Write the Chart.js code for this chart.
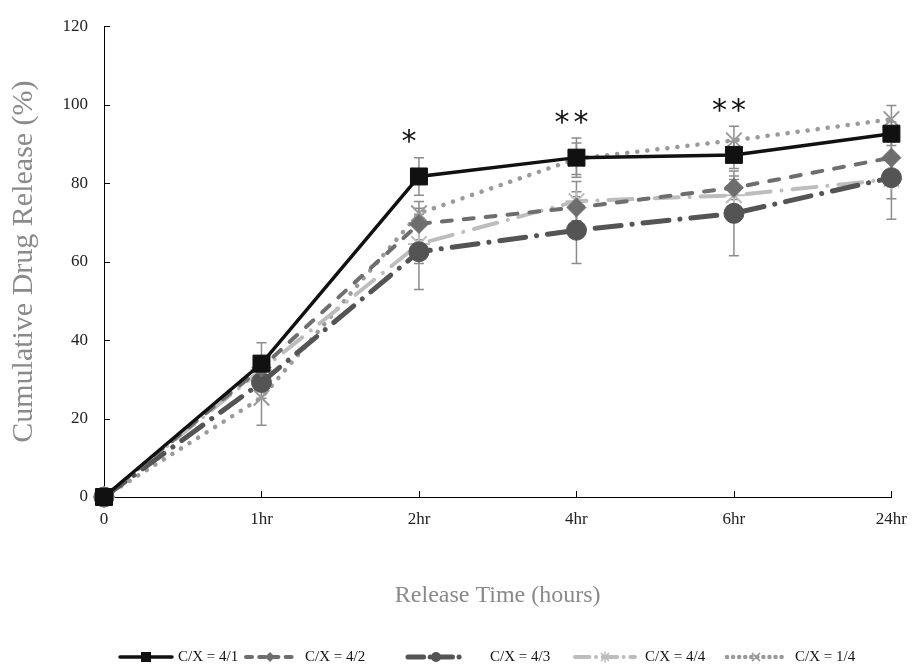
<!DOCTYPE html>
<html>
<head>
<meta charset="utf-8">
<script src="https://cdn.jsdelivr.net/npm/chart.js@4"></script>
<style>
  html, body { margin: 0; padding: 0; background: #fff; }
</style>
</head>
<body>
<canvas id="release-chart" width="919" height="667"></canvas>
<script>
/* release chart — cumulative drug release vs time */

const timeLabels = ['0', '1hr', '2hr', '4hr', '6hr', '24hr'];
const yTicks = { min: 0, max: 120, step: 20 };

const cx41 = [0, 34.0, 81.7, 86.5, 87.2, 92.6];
const cx42 = [0, 33.0, 69.6, 73.8, 78.8, 86.5];
const cx43 = [0, 29.2, 62.5, 68.0, 72.3, 81.4];
const cx44 = [0, 32.4, 64.5, 75.4, 76.9, 81.0];
const cx14 = [0, 25.3, 72.3, 86.2, 90.9, 96.3];

const err41 = [0, 5.3, 4.8, 5.0, 3.5, 3.0];
const err42 = [0, 3.0, 4.0, 4.0, 3.0, 4.0];
const err43 = [0, 4.0, 9.6, 8.5, 10.8, 10.6];
const err44 = [0, 3.0, 5.0, 5.0, 4.0, 5.0];
const err14 = [0, 7.0, 3.0, 4.0, 3.6, 3.5];

const sigMarks = ['', '', '*', '**', '**', ''];

const serif = "'Liberation Serif', 'Times New Roman', serif";

function series(label, data, errs, color, dash, width, style, radius) {
  return {
    label, data, errs,
    borderColor: color, backgroundColor: color,
    borderWidth: width, borderDash: dash, borderCapStyle: 'round',
    pointStyle: style, pointRadius: radius,
    pointBackgroundColor: color, pointBorderColor: color,
    pointBorderWidth: (style === 'star' || style === 'crossRot') ? 2 : 1,
    tension: 0, fill: false, clip: false
  };
}

const datasets = [
  series('C/X = 4/1', cx41, err41, '#111111', [], 3.5, 'rect', 12),
  series('C/X = 4/2', cx42, err42, '#6e6e6e', [10, 12], 4, 'rectRot', 9.5),
  series('C/X = 4/3', cx43, err43, '#545454', [26, 11, 0.1, 11], 5, 'circle', 10),
  series('C/X = 4/4', cx44, err44, '#bdbdbd', [24, 11, 0.1, 11], 4, 'star', 11),
  series('C/X = 1/4', cx14, err14, '#9a9a9a', [0.1, 10], 4.5, 'crossRot', 11)
];

// 误差线（画在折线下面）
const errorBars = {
  id: 'errorBars',
  beforeDatasetsDraw(chart) {
    const ctx = chart.ctx, y = chart.scales.y;
    ctx.save();
    ctx.strokeStyle = '#8c8c8c';
    ctx.lineWidth = 1.5;
    chart.data.datasets.forEach((ds, i) => {
      chart.getDatasetMeta(i).data.forEach((pt, j) => {
        const e = ds.errs[j];
        if (!e) return;
        const top = y.getPixelForValue(ds.data[j] + e);
        const bot = y.getPixelForValue(ds.data[j] - e);
        ctx.beginPath();
        ctx.moveTo(pt.x, top); ctx.lineTo(pt.x, bot);
        ctx.moveTo(pt.x - 5, top); ctx.lineTo(pt.x + 5, top);
        ctx.moveTo(pt.x - 5, bot); ctx.lineTo(pt.x + 5, bot);
        ctx.stroke();
      });
    });
    ctx.restore();
  }
};

// 星号 + 内侧刻度
const extras = {
  id: 'extras',
  afterDatasetsDraw(chart) {
    const ctx = chart.ctx, x = chart.scales.x, y = chart.scales.y;
    const area = chart.chartArea;
    ctx.save();
    ctx.strokeStyle = '#000';
    ctx.lineWidth = 1;
    for (let v = yTicks.min + yTicks.step; v <= yTicks.max; v += yTicks.step) {
      const py = Math.round(y.getPixelForValue(v)) + 0.5;
      ctx.beginPath(); ctx.moveTo(area.left, py); ctx.lineTo(area.left + 6, py); ctx.stroke();
    }
    for (let i = 1; i < timeLabels.length; i++) {
      const px = Math.round(x.getPixelForValue(i)) + 0.5;
      ctx.beginPath(); ctx.moveTo(px, area.bottom); ctx.lineTo(px, area.bottom - 6); ctx.stroke();
    }
    ctx.fillStyle = '#111';
    ctx.font = "30px 'DejaVu Sans', sans-serif";
    ctx.textAlign = 'center';
    ctx.textBaseline = 'middle';
    sigMarks.forEach((m, j) => {
      if (!m) return;
      let top = Infinity;
      chart.data.datasets.forEach(ds => {
        top = Math.min(top, y.getPixelForValue(ds.data[j] + (ds.errs[j] || 0)));
      });
      const cx = x.getPixelForValue(j) - (m.length === 1 ? 10 : 5);
      const gap = 19;
      for (let k = 0; k < m.length; k++) {
        ctx.fillText(m[k], cx + (k - (m.length - 1) / 2) * gap, top - 14);
      }
    });
    ctx.restore();
  }
};

function drawMarker(ctx, style, cx, cy, r) {
  ctx.beginPath();
  if (style === 'rect') {
    ctx.rect(cx - r, cy - r, 2 * r, 2 * r); ctx.fill();
  } else if (style === 'rectRot') {
    ctx.moveTo(cx, cy - r); ctx.lineTo(cx + r, cy); ctx.lineTo(cx, cy + r); ctx.lineTo(cx - r, cy);
    ctx.closePath(); ctx.fill();
  } else if (style === 'circle') {
    ctx.arc(cx, cy, r, 0, Math.PI * 2); ctx.fill();
  } else {
    const d = r * 0.72;
    ctx.moveTo(cx - d, cy - d); ctx.lineTo(cx + d, cy + d);
    ctx.moveTo(cx - d, cy + d); ctx.lineTo(cx + d, cy - d);
    if (style === 'star') { ctx.moveTo(cx, cy - r); ctx.lineTo(cx, cy + r); }
    ctx.lineWidth = 1.5; ctx.setLineDash([]); ctx.stroke();
  }
}

// 图例：线型 + 标记
const legendStarts = [120, 246, 408, 575, 727];
const legendLens = [52, 48, 56, 60, 58];
const legendTextX = [178, 305, 490, 645, 795];

const lineLegend = {
  id: 'lineLegend',
  afterDraw(chart) {
    const ctx = chart.ctx;
    const ly = 657;
    ctx.save();
    ctx.font = '15px ' + serif;
    ctx.textBaseline = 'middle';
    ctx.textAlign = 'left';
    chart.data.datasets.forEach((ds, i) => {
      const x0 = legendStarts[i];
      const len = legendLens[i];
      ctx.strokeStyle = ds.borderColor;
      ctx.fillStyle = ds.borderColor;
      ctx.lineWidth = ds.borderWidth;
      ctx.lineCap = 'round';
      ctx.setLineDash(ds.borderDash.map(v => v * 0.6));
      ctx.beginPath(); ctx.moveTo(x0, ly); ctx.lineTo(x0 + len, ly); ctx.stroke();
      ctx.setLineDash([]);
      drawMarker(ctx, ds.pointStyle, x0 + len / 2, ly, 5);
      ctx.fillStyle = '#111';
      ctx.fillText(ds.label, legendTextX[i], ly);
    });
    ctx.restore();
  }
};

new Chart(document.getElementById('release-chart'), {
  type: 'line',
  data: { labels: timeLabels, datasets },
  options: {
    responsive: false,
    animation: false,
    events: [],
    layout: { padding: { left: 0, right: 19, top: 21, bottom: 0 } },
    plugins: { legend: { display: false }, tooltip: { enabled: false } },
    scales: {
      x: {
        offset: false,
        grid: { display: false, drawTicks: false },
        border: { display: true, color: '#000', width: 1 },
        ticks: { color: '#222', font: { family: serif, size: 17 }, padding: 12 },
        title: {
          display: true, text: 'Release Time (hours)', color: '#8a8a8a',
          font: { family: serif, size: 24 }, padding: { top: 0, bottom: 57 }
        },
        afterFit(s) { s.height = 170; }
      },
      y: {
        min: yTicks.min, max: yTicks.max,
        grid: { display: false, drawTicks: false },
        border: { display: true, color: '#000', width: 1 },
        ticks: { stepSize: yTicks.step, color: '#222', font: { family: serif, size: 17 }, padding: 16 },
        title: {
          display: true, text: 'Cumulative Drug Release (%)', color: '#8a8a8a',
          font: { family: serif, size: 30 }, padding: { top: 6, bottom: 0 }
        },
        afterFit(s) { s.width = 104; }
      }
    }
  },
  plugins: [errorBars, extras, lineLegend]
});
</script>
</body>
</html>
